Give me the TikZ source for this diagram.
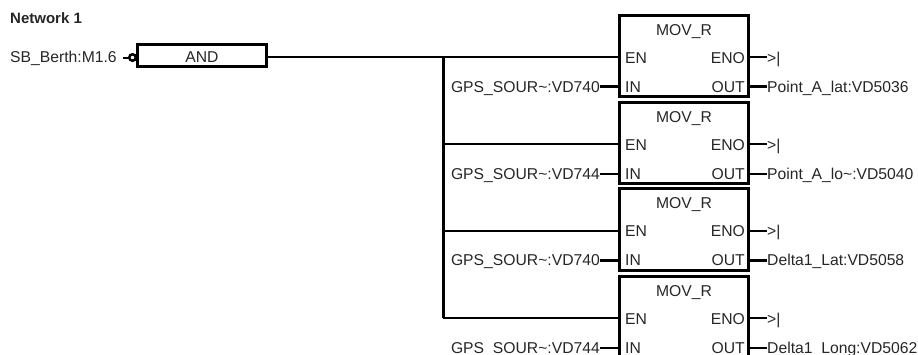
\documentclass[tikz,border=0pt]{standalone}
\usepackage{fontspec}
\setmainfont{Liberation Sans}
\begin{document}
\begin{tikzpicture}[x=1pt,y=-1pt,
  txt/.style={inner sep=0pt,font=\fontsize{15.7}{18}\selectfont,text=black!85},
  lbl/.style={txt,anchor=base west},
  lblr/.style={txt,anchor=base east},
  movbox/.style={draw=black,line width=3pt,outer sep=0pt,minimum width=129pt,minimum height=80.5pt,inner sep=0pt},
  andbox/.style={draw=black,line width=3pt,outer sep=0pt,minimum width=129pt,minimum height=22pt,inner sep=0pt},
  bus/.style={draw=black,line width=3pt},
  wire/.style={draw=black,line width=2pt}]
\clip (0,0) rectangle (918,354);
\useasboundingbox (0,0) rectangle (918,354);
\node[lbl,font=\fontsize{15}{18}\selectfont\bfseries] (net) at (10,23.3) {Network 1};
\node[lbl] (sb) at (10,62.5) {SB\_Berth:M1.6};
\node[andbox,anchor=west] (and) at (137,55) {};
\node[txt,anchor=base] (andt) at (202,62.7) {AND};
\node[draw=black,line width=2.5pt,circle,minimum size=6.5pt,inner sep=0pt,outer sep=0pt] (neg) at (132.5,57.5) {};
\draw[wire] (neg.west) -- ++(-6,0) coordinate (sbe);
\coordinate (busT) at (443,57);
\coordinate (busB) at (443,318);
\draw[wire] (and.east |- busT) -- (busT);
\foreach \n/\top/\src/\dst/\w in {
  1/15/GPS\_SOUR\string~:VD740/Point\_A\_lat:VD5036/3,
  2/102/GPS\_SOUR\string~:VD744/Point\_A\_lo\string~:VD5040/2,
  3/188.5/GPS\_SOUR\string~:VD740/Delta1\_Lat:VD5058/3,
  4/276/GPS\_SOUR\string~:VD744/Delta1\_Long:VD5062/2}{
  \node[movbox,anchor=north west,minimum height=81.5pt] (b\n) at (619,\top) {};
  \path (b\n.north west) ++(65,20) node[txt,anchor=base] (t\n) {MOV\_R};
  \path (b\n.north west) ++(6,48) node[lbl] (en\n) {EN};
  \path (b\n.north west) ++(6,77) node[lbl] (in\n) {IN};
  \path (b\n.north east) ++(-3,48) node[lblr] (eno\n) {ENO};
  \path (b\n.north east) ++(-3,77) node[lblr] (out\n) {OUT};
  \path (b\n.north west) ++(-19,77) node[lblr] (src\n) {\src};
  \path (b\n.north east) ++(19,77) node[lbl] (dst\n) {\dst};
  \path (b\n.north east) ++(19,48) node[lbl] (end\n) {>|};
  \path (b\n.north west) ++(0,42) coordinate (enp\n);
  \path (b\n.north west) ++(0,71.5) coordinate (inp\n);
  \path (b\n.north east) ++(0,42) coordinate (enop\n);
  \path (b\n.north east) ++(0,71.5) coordinate (outp\n);
  \draw[wire] (busT |- enp\n) -- (enp\n);
  \draw[line width=\w pt] (src\n.east |- inp\n) -- (inp\n);
  \draw[wire] (enop\n) -- (end\n.west |- enop\n);
  \draw[line width=\w pt] (outp\n) -- (dst\n.west |- outp\n);
}
\draw[bus] (busT) -- (busB);
\end{tikzpicture}
\end{document}
